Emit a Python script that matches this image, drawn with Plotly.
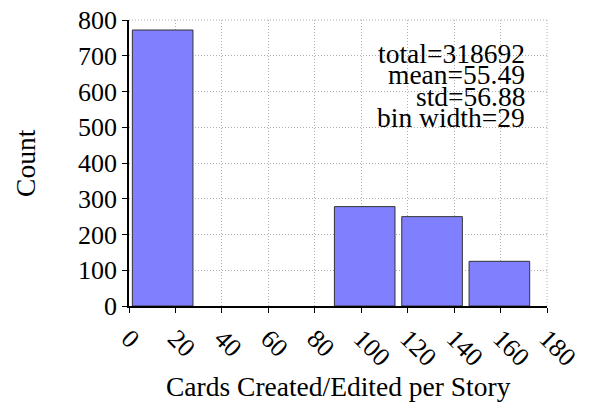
import plotly.graph_objects as go

# histogram of cards created/edited per story
bin_width = 29
bin_left = [0, 29, 58, 87, 116, 145]
counts = [772, 0, 0, 278, 250, 125]
stats = ["total=318692", "mean=55.49", "std=56.88", "bin width=29"]
stat_y = [708, 648, 588, 528]

x_ticks = [0, 20, 40, 60, 80, 100, 120, 140, 160, 180]
y_ticks = [0, 100, 200, 300, 400, 500, 600, 700, 800]

FONT = "Liberation Serif"
fnt = dict(family=FONT, size=26, color="black")
big = dict(family=FONT, size=27.5, color="black")
grid_col = "#b0b0b0"

fig = go.Figure()
fig.add_trace(go.Bar(
    x=[b + bin_width / 2 for b in bin_left],
    y=counts,
    width=bin_width * 0.9,
    marker=dict(color="#8080ff",
                line=dict(color="#333333", width=[1 if c > 0 else 0 for c in counts])),
))

for txt, yy in zip(stats, stat_y):
    fig.add_annotation(x=171.5, y=yy, text=txt, showarrow=False,
                       xanchor="right", yanchor="middle", height=20,
                       font=big)

# axis titles placed by hand
fig.add_annotation(xref="paper", yref="paper", x=0.5, y=-0.283,
                   text="Cards Created/Edited per Story", showarrow=False,
                   xanchor="center", yanchor="middle", font=big)
fig.add_annotation(xref="paper", yref="paper", x=-0.249, y=0.5,
                   text="Count", showarrow=False, textangle=-90,
                   xanchor="center", yanchor="middle", font=big)

# dotted frame on top and right
fig.add_shape(type="line", xref="paper", yref="paper", x0=0, x1=1, y0=1, y1=1,
              line=dict(color=grid_col, width=1, dash="1px,2px"))
fig.add_shape(type="line", xref="paper", yref="paper", x0=1, x1=1, y0=0, y1=1,
              line=dict(color=grid_col, width=1, dash="1px,2px"))

fig.update_xaxes(
    range=[0, 180], tickvals=x_ticks, tickangle=45, automargin=False,
    tickfont=fnt, ticklabeloverflow="allow",
    showline=True, linecolor="black", linewidth=1.5,
    ticks="outside", ticklen=5, tickcolor="black",
    showgrid=True, gridcolor=grid_col, griddash="1px,2px", gridwidth=1,
    zeroline=False,
)
fig.update_yaxes(
    range=[0, 800], tickvals=y_ticks, automargin=False,
    tickfont=fnt, ticklabeloverflow="allow",
    showline=True, linecolor="black", linewidth=1.5,
    ticks="outside", ticklen=5, tickcolor="black",
    showgrid=True, gridcolor=grid_col, griddash="1px,2px", gridwidth=1,
    zeroline=False,
)

fig.update_layout(
    width=591, height=406,
    margin=dict(l=129, r=44, t=20, b=100),
    plot_bgcolor="white", paper_bgcolor="white",
    font=fnt,
    showlegend=False,
)

# drop the browser's default body margin so the figure sits at the corner
fig.write_html("out.html", config={"displayModeBar": False},
               post_script="document.body.style.margin='0';")
